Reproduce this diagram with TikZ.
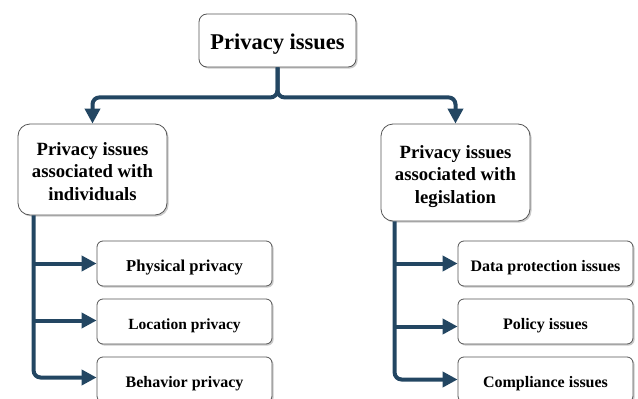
\documentclass[tikz,border=0pt]{standalone}
\usepackage{fontspec}
\setmainfont{Liberation Serif}
\usetikzlibrary{arrows.meta,shadows,calc}
\definecolor{conncol}{RGB}{35,70,98}
\definecolor{boxline}{RGB}{85,85,85}
\newcommand{\lowtext}[2][4pt]{\raisebox{-#1}[\height][\depth]{\begin{tabular}{@{}c@{}}#2\end{tabular}}}
\tikzset{
  box/.style={draw=boxline, line width=0.8pt, fill=white, align=center, inner sep=2pt,
    drop shadow={shadow xshift=1.6pt, shadow yshift=-1.6pt, fill=black!45, opacity=0.45}},
  topbox/.style={box, rounded corners=8pt, minimum width=157pt, minimum height=53pt,
    font=\fontsize{22.5}{27}\selectfont\bfseries},
  midbox/.style={box, rounded corners=12pt, minimum width=149pt,
    font=\fontsize{18.7}{22.5}\selectfont\bfseries},
  leafbox/.style={box, rounded corners=6pt, minimum width=175pt, minimum height=45pt,
    font=\fontsize{16}{19}\selectfont\bfseries},
  conn/.style={draw=conncol, line width=4pt, rounded corners=7pt,
    -{Triangle[length=15pt,width=15pt]}}
}
\begin{document}
\begin{tikzpicture}[x=1pt,y=-1pt]
\useasboundingbox (0,0) rectangle (638,399);
% boxes
\node[topbox] (top) at (277.5,40.5) {\lowtext{Privacy issues}};
\node[midbox, minimum height=91pt] (lmid) at (92.5,169.5) {\lowtext[3.5pt]{Privacy issues\\associated with\\individuals}};
\node[midbox, minimum height=97pt] (rmid) at (455.5,172.5) {\lowtext[3.5pt]{Privacy issues\\associated with\\legislation}};
\node[leafbox, font=\fontsize{16.6}{19}\selectfont\bfseries] (l1) at (184.5,263.5) {\lowtext{Physical privacy}};
\node[leafbox, font=\fontsize{15.5}{18}\selectfont\bfseries] (l2) at (184.5,321.5) {\lowtext{Location privacy}};
\node[leafbox] (l3) at (184.5,379.5) {\lowtext{Behavior privacy}};
\node[leafbox] (r1) at (545.5,263.5) {\lowtext{Data protection issues}};
\node[leafbox] (r2) at (545.5,321.5) {\lowtext{Policy issues}};
\node[leafbox] (r3) at (545.5,379.5) {\lowtext{Compliance issues}};
% top connectors
\coordinate (j) at ($(top.south)+(0,30)$);
\draw[conn] (top.south) -- (j) -| (lmid.north);
\draw[conn] (top.south) -- (j) -| (rmid.north);
% left trunk
\coordinate (lv) at ($(lmid.south west)+(16,0)$);
\draw[conn] (lv) |- ($(l3.west)+(0,-2)$);
\draw[conn] (lv |- l1.west) -- (l1.west);
\draw[conn] ($(lv |- l2.west)+(0,-1)$) -- ($(l2.west)+(0,-1)$);
% right trunk
\coordinate (rv) at ($(rmid.south west)+(14,0)$);
\draw[conn] (rv) |- (r3.west);
\draw[conn] (rv |- r1.west) -- (r1.west);
\draw[conn] ($(rv |- r2.west)+(0,5)$) -- ($(r2.west)+(0,5)$);
\end{tikzpicture}
\end{document}
